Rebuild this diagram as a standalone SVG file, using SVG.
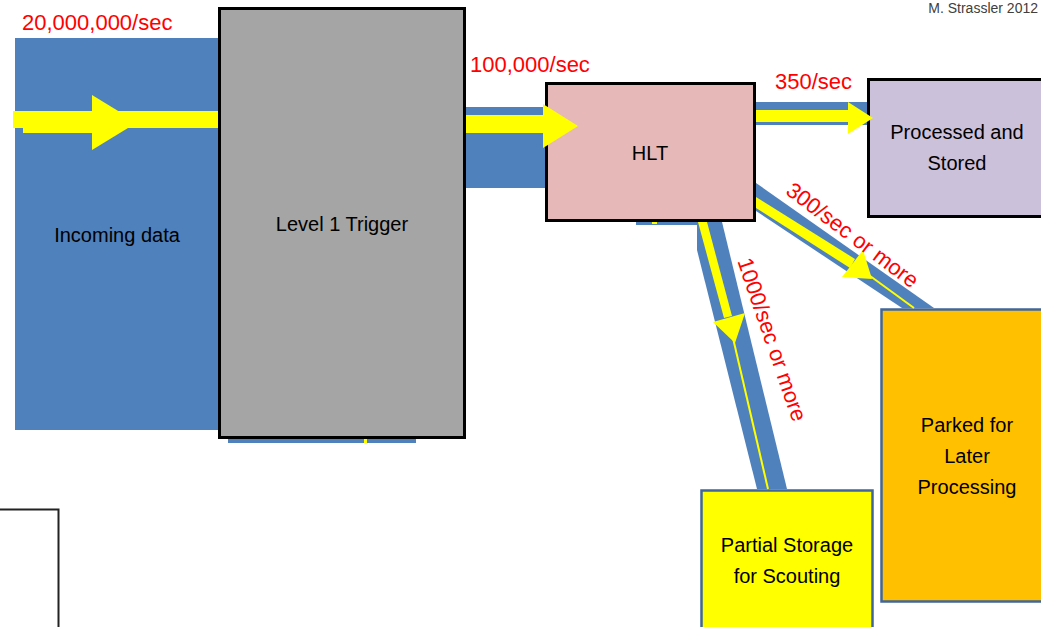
<svg xmlns="http://www.w3.org/2000/svg" width="1041" height="627" viewBox="0 0 1041 627">
<style>
.band{fill:#4F81BD}
.ylw{fill:#FFFF00}
.yline{stroke:#FFFF00;fill:none}
.lbl{font-family:"Liberation Sans",Arial,sans-serif;font-size:20px;fill:#000;text-anchor:middle}
.rate{font-family:"Liberation Sans",Arial,sans-serif;font-size:22px;fill:#FF0000}
.box{stroke:#000;stroke-width:3}
.box2{stroke:#41669A;stroke-width:2.5}
</style>
<rect width="1041" height="627" fill="#FFFFFF"/>
<g id="incoming">
<rect class="band" x="15" y="38" width="205" height="392"/>
<text class="lbl" x="117" y="242">Incoming data</text>
</g>
<g id="level1">
<rect class="box" x="219.5" y="8.5" width="245" height="429" fill="#A5A5A5"/>
<text class="lbl" x="342" y="231">Level 1 Trigger</text>
</g>
<g id="hlt">
<rect class="box" x="546.5" y="83.5" width="208" height="137" fill="#E6B9B8"/>
<text class="lbl" x="650" y="160">HLT</text>
</g>
<g id="processed">
<rect class="box" x="868.5" y="79.5" width="200" height="137" fill="#CCC1DA"/>
<text class="lbl" x="957" y="139">Processed and</text>
<text class="lbl" x="957" y="170">Stored</text>
</g>
<g id="parked">
<rect class="box2" x="881.5" y="309.5" width="200" height="292" fill="#FFC000"/>
<text class="lbl" x="967" y="432">Parked for</text>
<text class="lbl" x="967" y="463">Later</text>
<text class="lbl" x="967" y="494">Processing</text>
</g>
<g id="partial">
<rect class="box2" x="701.5" y="490.5" width="171" height="150" fill="#FFFF00"/>
<text class="lbl" x="787" y="552">Partial Storage</text>
<text class="lbl" x="787" y="583">for Scouting</text>
</g>
<g id="leftbox">
<polyline points="0,509.5 58.5,509.5 58.5,627" fill="none" stroke="#222" stroke-width="2"/>
</g>
<g id="connectors">
<!-- incoming arrow -->
<rect class="ylw" x="13" y="111" width="205" height="17"/>
<rect class="ylw" x="23" y="128" width="77" height="5"/>
<polygon class="ylw" points="92,95 137,122.5 92,150"/>
<!-- L1 to HLT -->
<rect class="band" x="466" y="107" width="79" height="81"/>
<rect class="ylw" x="466" y="115" width="79" height="18"/>
<polygon class="ylw" points="543,104 578,126 543,148"/>
<!-- under L1 -->
<rect class="band" x="228" y="439" width="188" height="4"/>
<rect class="ylw" x="364" y="439" width="3" height="4"/>
<!-- under HLT -->
<rect class="band" x="636" y="222" width="64" height="3"/>
<rect class="ylw" x="652" y="222" width="5" height="2"/>
<!-- HLT to Processed -->
<rect class="band" x="756" y="102" width="111" height="23"/>
<rect class="ylw" x="756" y="110" width="93" height="12"/>
<polygon class="ylw" points="848,102 873,118 848,134"/>
<!-- HLT to Parked -->
<polygon class="band" points="756,183 934,308 902,308 756,211"/>
<polygon class="ylw" points="756,197 855,259 850,268 756,208"/>
<polygon class="ylw" points="842,277 863,250 872,279"/>
<line class="yline" stroke-width="2" x1="866" y1="273" x2="914" y2="308"/>
<!-- HLT to Partial -->
<polygon class="band" points="697,222 722,222 787,489 757,489 697,250"/>
<polygon class="ylw" points="698,222 707,222 732,316 724,318"/>
<polygon class="ylw" points="713,322 745,313 735,343"/>
<line class="yline" stroke-width="2" x1="733" y1="338" x2="768" y2="489"/>
</g>
<g id="labels">
<text class="rate" x="22" y="30">20,000,000/sec</text>
<text class="rate" x="470" y="72">100,000/sec</text>
<text class="rate" x="775" y="89">350/sec</text>
<text class="rate" text-anchor="middle" transform="translate(848,241) rotate(37)">300/sec or more</text>
<text class="rate" text-anchor="middle" transform="translate(765,342) rotate(71)">1000/sec or more</text>
<text x="1038" y="13" font-family="'Liberation Sans',Arial,sans-serif" font-size="14" fill="#404040" text-anchor="end">M. Strassler 2012</text>
</g>
</svg>
